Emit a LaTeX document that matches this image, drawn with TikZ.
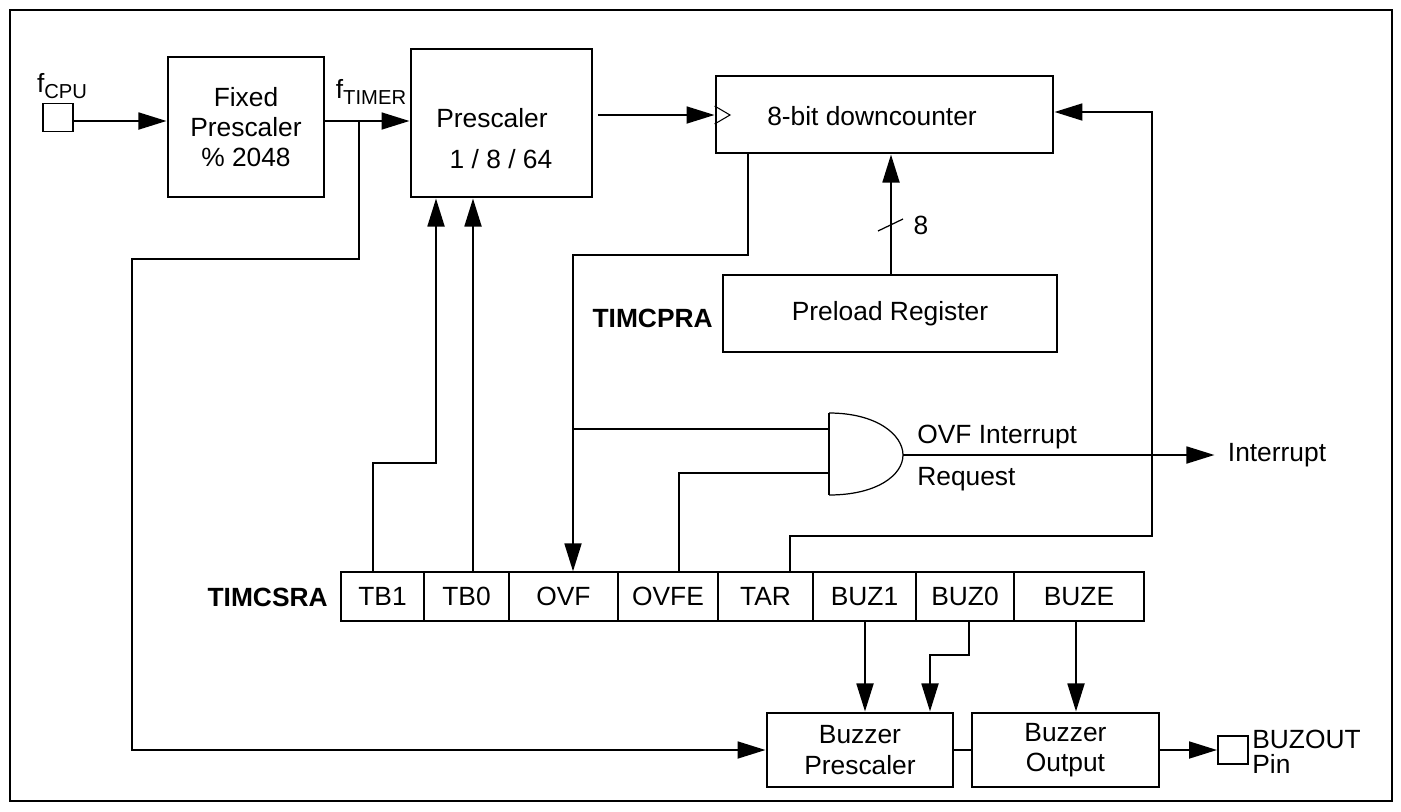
\documentclass[tikz,border=0pt]{standalone}
\usepackage{fontspec}
\setmainfont{Liberation Sans}
\usetikzlibrary{arrows.meta}
\tikzset{
  blk/.style={draw,line width=1.6pt,inner sep=0pt,align=center},
  regcell/.style={draw,line width=0.6pt,minimum height=0.98cm,inner sep=0pt},
  padbox/.style={draw,line width=1pt,minimum width=0.6cm,minimum height=0.56cm,inner sep=0pt},
  sig/.style={-{Triangle[length=16pt,width=9.5pt]},line width=1.6pt},
  ln/.style={line width=1.6pt},
  txt/.style={inner sep=0pt},
  bold/.style={inner sep=0pt,font=\fontsize{15}{17}\selectfont\bfseries},
}
\newcommand{\subtx}[1]{\raisebox{-3.5pt}{\fontsize{11.5}{12}\selectfont #1}}

\begin{document}
\begin{tikzpicture}[x=0.02cm,y=-0.02cm,font=\fontsize{15}{17.3}\selectfont]
  \useasboundingbox (0,0) rectangle (1401,812);
  \draw[line width=1.1pt] (10,10) rectangle (1392,801);
  % clock path
  \node[padbox] (cpu) at (58,117.5) {};
  \node[txt] (fcpu) at (62,86) {f\subtx{CPU}};
  \node[blk,minimum width=3.12cm,minimum height=2.8cm] (fixp) at (246,127) {Fixed\\Prescaler\\\% 2048};
  \node[txt] (ftim) at (371,92) {f\subtx{TIMER}};
  \node[blk,minimum width=3.62cm,minimum height=2.96cm] (pre) at (501.5,123) {};
  \node[txt] (pret) at (492,118) {Prescaler};
  \node[txt] (prer) at (501,159) {1 / 8 / 64};
  \node[blk,minimum width=6.74cm,minimum height=1.54cm] (dc) at (884.5,114.5) {};
  \node[txt] (dct) at (872,116) {8-bit downcounter};
  \node[blk,minimum width=6.68cm,minimum height=1.54cm] (plr) at (890,313.5) {Preload Register};
  \node[bold,anchor=east] (cpra) at (713,318) {TIMCPRA};
  \node[txt] (bw) at (921,225) {8};
  % control register
  \node[bold,anchor=east] (csra) at (328,597) {TIMCSRA};
  \foreach \nm/\tx/\l/\r in {tba/TB1/341/424,tbb/TB0/424/509,ovf/OVF/509/618,ovfe/OVFE/618/718,
      tar/TAR/718/813,buza/BUZ1/813/916,buzb/BUZ0/916/1014,buze/BUZE/1014/1144}
    \node[regcell,minimum width={(\r-\l)*0.02cm}] (\nm) at ({(\l+\r)/2},596.5) {\tx};
  % interrupt gate
  \coordinate (andi1) at (829,429);
  \coordinate (andi2) at (829,473);
  \coordinate (ando) at (903,455);
  \draw[line width=0.7pt] (829,413) .. controls (877,413) and (903,435) .. (ando)
     .. controls (903,475) and (877,495) .. (829,495);
  \draw[line width=1.3pt] (829,413) -- (829,495);
  \node[txt,anchor=west] (ovfl) at (917,437) {OVF Interrupt};
  \node[txt,anchor=west] (reql) at (917,479) {Request};
  \node[inner sep=7.4pt] (intr) at (1277,455) {Interrupt};
  % buzzer
  \node[blk,minimum width=3.72cm,minimum height=1.48cm] (bp) at (860,750) {Buzzer\\Prescaler};
  \node[blk,minimum width=3.74cm,minimum height=1.48cm] (bo) at (1065.5,750) {Buzzer\\Output};
  \node[padbox] (bzpin) at (1233,750) {};
  \node[txt,anchor=west,align=left,font=\fontsize{15}{14.5}\selectfont] (bzt) at (1252,752) {BUZOUT\\Pin};
  % connections
  \coordinate (ft) at (359,121);
  \coordinate (jov) at (573,429);
  \draw[sig] (cpu.east |- ft) -- (fixp.west |- ft);
  \draw[sig] (fixp.east |- ft) -- (pre.west |- ft);
  \draw[sig] (ft) -- (ft |- 0,259) -| (132,750) -- (bp.west);
  \draw[sig,shorten <=2.5pt] (pre.east |- 0,115) -- (dc.west |- 0,115);
  \draw[line width=0.6pt] (dc.west |- 0,106) -- (730,115) -- (dc.west |- 0,124);
  \draw[sig] (dc.south -| 748,0) |- (573,255) -- (ovf.north -| 573,0);
  \draw[ln] (jov) -- (andi1);
  \draw[ln] (ovfe.north -| 679,0) |- (andi2);
  \draw[sig] (ando) -- (intr.west);
  \draw[sig] (tar.north -| 790,0) |- (1152,536) |- (dc.east |- 0,112);
  \draw[sig] (tba.north -| 373,0) |- (436,463) -- (pre.south -| 436,0);
  \draw[sig] (tbb.north -| 473,0) -- (pre.south -| 473,0);
  \draw[sig] (plr.north -| 891,0) -- (dc.south -| 891,0);
  \draw[line width=0.7pt] (878,231) -- (903,219);
  \draw[sig] (buza.south -| 865,0) -- (bp.north -| 865,0);
  \draw[sig] (buzb.south -| 969,0) |- (930,655) -- (bp.north -| 930,0);
  \draw[sig] (buze.south -| 1076,0) -- (bo.north -| 1076,0);
  \draw[ln] (bp.east) -- (bo.west);
  \draw[sig] (bo.east) -- (bzpin.west);
\end{tikzpicture}
\end{document}
